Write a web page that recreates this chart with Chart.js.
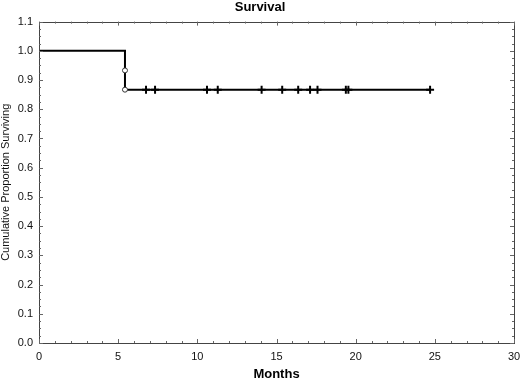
<!DOCTYPE html>
<html lang="en">
<head>
<meta charset="utf-8" />
<title>Survival</title>
<style>
  html, body { margin: 0; padding: 0; background: #ffffff; }
  #wrap { width: 520px; height: 381px; }
</style>
</head>
<body>
<div id="wrap"><canvas id="chart" width="520" height="381"></canvas></div>
<script src="https://cdn.jsdelivr.net/npm/chart.js"></script>
<script>
// Kaplan-Meier curve (months, proportion surviving)
const stepTimes = [0, 5.43, 24.7];
const stepSurv = [1.0, 0.867, 0.867];

// complete (event) points, open circles
const eventTimes = [5.43, 5.43];
const eventSurv = [0.933, 0.867];

// censored observations, crosses
const censorTimes = [6.76, 7.33, 10.61, 11.29, 14.06, 15.36, 16.37, 17.12, 17.59, 19.38, 19.54, 24.7];
const censorSurv = [0.867, 0.867, 0.867, 0.867, 0.867, 0.867, 0.867, 0.867, 0.867, 0.867, 0.867, 0.867];

const xTicks = [0, 5, 10, 15, 20, 25, 30];
const yTicks = [0.0, 0.1, 0.2, 0.3, 0.4, 0.5, 0.6, 0.7, 0.8, 0.9, 1.0, 1.1];

const toPts = (xs, ys) => xs.map((x, i) => ({ x: x, y: ys[i] }));

// frame with inward ticks on all four sides
const framePlugin = {
  id: "frame",
  afterDatasetsDraw(chart) {
    const { ctx, chartArea: a, scales } = chart;
    const xs = scales.x, ys = scales.y;
    ctx.save();
    ctx.strokeStyle = "#444";
    ctx.lineWidth = 1;
    ctx.strokeRect(Math.round(a.left) + 0.5, Math.round(a.top) + 0.5,
      Math.round(a.right - a.left), Math.round(a.bottom - a.top));
    ctx.strokeStyle = "#666";
    ctx.beginPath();
    for (let m = 0; m <= 30; m++) {
      const px = Math.round(xs.getPixelForValue(m)) + 0.5;
      const len = m % 5 === 0 ? 4 : 2;
      ctx.moveTo(px, a.bottom); ctx.lineTo(px, a.bottom - len);
      ctx.moveTo(px, a.top); ctx.lineTo(px, a.top + len);
    }
    for (let k = 0; k <= 44; k++) {
      const py = Math.round(ys.getPixelForValue(k * 0.025)) + 0.5;
      const len = k % 4 === 0 ? 4 : 2;
      ctx.moveTo(a.left, py); ctx.lineTo(a.left + len, py);
      ctx.moveTo(a.right, py); ctx.lineTo(a.right - len, py);
    }
    ctx.stroke();
    ctx.restore();
  }
};

new Chart(document.getElementById("chart"), {
  type: "scatter",
  data: {
    datasets: [
      {
        label: "Survival",
        type: "line",
        data: toPts(stepTimes, stepSurv),
        stepped: true,
        borderColor: "#000",
        borderWidth: 2,
        pointRadius: 0,
        fill: false,
        clip: false,
        order: 3
      },
      {
        label: "Censored",
        data: toPts(censorTimes, censorSurv),
        pointStyle: "cross",
        pointRadius: 4,
        borderColor: "#000",
        borderWidth: 2,
        order: 1
      },
      {
        label: "Complete",
        data: toPts(eventTimes, eventSurv),
        pointStyle: "circle",
        pointRadius: 2.5,
        backgroundColor: "#fff",
        borderColor: "#333",
        borderWidth: 1,
        order: 0
      }
    ]
  },
  options: {
    responsive: false,
    animation: false,
    layout: { padding: { top: 0, right: 0, bottom: 0, left: 0 } },
    plugins: {
      legend: { display: false },
      tooltip: { enabled: false },
      title: {
        display: true,
        text: "Survival",
        color: "#000",
        font: { family: "Liberation Sans, Arial, sans-serif", size: 13, weight: "bold", lineHeight: 1.2 },
        padding: { top: 0, bottom: 6 }
      }
    },
    scales: {
      x: {
        type: "linear",
        min: 0,
        max: 30,
        afterBuildTicks: (s) => { s.ticks = xTicks.map((v) => ({ value: v })); },
        afterFit: (s) => { s.height = 38; s.paddingRight = 6; s.paddingLeft = 0; },
        grid: { display: false, drawTicks: false },
        border: { display: false },
        ticks: {
          color: "#111",
          padding: 7,
          font: { family: "Liberation Sans, Arial, sans-serif", size: 11 },
          maxRotation: 0
        },
        title: {
          display: true,
          text: "Months",
          color: "#000",
          padding: 0,
          font: { family: "Liberation Sans, Arial, sans-serif", size: 13, weight: "bold", lineHeight: 1 }
        }
      },
      y: {
        type: "linear",
        min: 0,
        max: 1.1,
        afterBuildTicks: (s) => { s.ticks = yTicks.map((v) => ({ value: v })); },
        afterFit: (s) => { s.width = 39; },
        grid: { display: false, drawTicks: false },
        border: { display: false },
        ticks: {
          color: "#111",
          padding: 6,
          font: { family: "Liberation Sans, Arial, sans-serif", size: 11 },
          callback: (v) => Number(v).toFixed(1)
        },
        title: {
          display: true,
          text: "Cumulative Proportion Surviving",
          color: "#111",
          padding: 0,
          font: { family: "Liberation Sans, Arial, sans-serif", size: 11, lineHeight: 1.1 }
        }
      }
    }
  },
  plugins: [framePlugin]
});
</script>
</body>
</html>
